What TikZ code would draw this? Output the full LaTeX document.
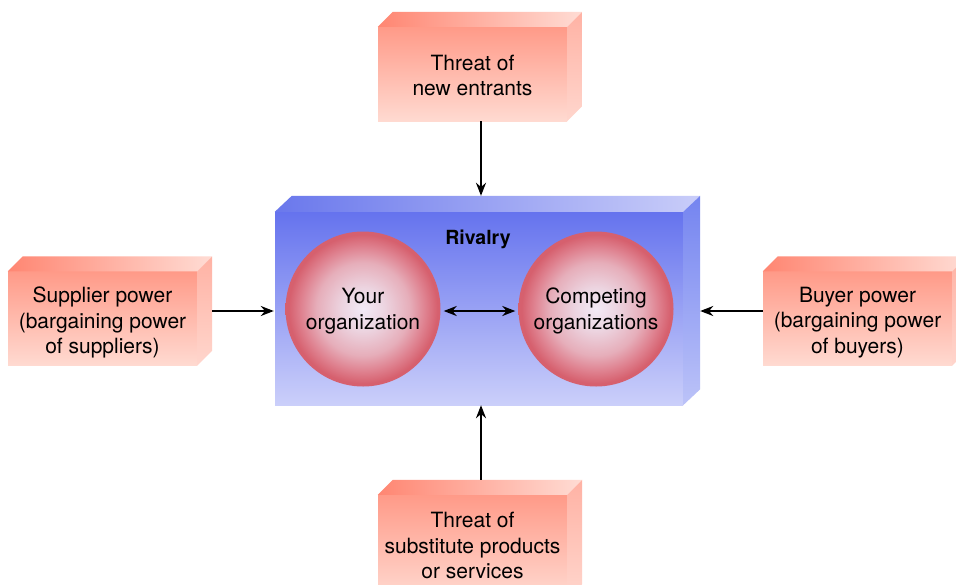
\documentclass[tikz,border=0pt]{standalone}
\usepackage{fontspec}
\setmainfont{TeX Gyre Heros}
\usetikzlibrary{arrows.meta,calc}

\definecolor{salTop}{HTML}{FF9A88}
\definecolor{salBot}{HTML}{FFDAD1}
\definecolor{salDeep}{HTML}{FF8672}
\definecolor{salPale}{HTML}{FFDCD4}
\definecolor{salSideTop}{HTML}{FFB2A4}
\definecolor{salSideBot}{HTML}{FFD6CD}
\definecolor{bluTop}{HTML}{6573EE}
\definecolor{bluBot}{HTML}{CBCFFA}
\definecolor{bluDeep}{HTML}{6A78EC}
\definecolor{bluPale}{HTML}{C9CDF9}
\definecolor{bluSideTop}{HTML}{7484F0}
\definecolor{bluSideBot}{HTML}{BCC3F8}
\definecolor{orgA}{HTML}{F2EAF6}
\definecolor{orgB}{HTML}{ECD4E0}
\definecolor{orgC}{HTML}{E6AEBA}
\definecolor{orgD}{HTML}{DF8290}
\definecolor{orgE}{HTML}{D6606E}

% pink ball: pale core, red rim
\pgfdeclareradialshading{orgball}{\pgfpoint{0bp}{0bp}}{%
  color(0bp)=(orgA); color(7bp)=(orgB); color(15bp)=(orgC);
  color(20bp)=(orgD); color(24bp)=(orgE); color(50bp)=(orgE)}

% side and top faces of an extruded front face
% #1 node, #2 depth x, #3 depth y, #4/#5 top face colours, #6/#7 side face colours
\newcommand\extrude[7]{%
  \shade[left color=#4, right color=#5]
    (#1.north west) -- ++(#2,-#3) -- ($(#1.north east)+(#2,-#3)$) -- (#1.north east) -- cycle;
  \shade[top color=#6, bottom color=#7]
    (#1.north east) -- ++(#2,-#3) -- ($(#1.south east)+(#2,-#3)$) -- (#1.south east) -- cycle;
}

\tikzset{
  forcebox/.style={rectangle, inner sep=0pt, minimum width=189pt, minimum height=94pt,
    top color=salTop, bottom color=salBot},
  caption/.style={inner sep=0pt, align=center, text=black,
    font=\fontsize{21}{25.5}\selectfont},
  marketbox/.style={rectangle, inner sep=0pt, minimum width=408pt, minimum height=193pt,
    top color=bluTop, bottom color=bluBot},
  orgcircle/.style={circle, inner sep=0pt, minimum size=155pt, shading=orgball},
  arr/.style={line width=2.4pt, -{Stealth[length=13pt,width=10pt]}},
  arrboth/.style={line width=2.4pt, {Stealth[length=13pt,width=10pt]}-{Stealth[length=13pt,width=10pt]}},
}

\begin{document}
\begin{tikzpicture}[x=1pt,y=-1pt]
\useasboundingbox (0,0) rectangle (956,584);
\clip (0,0) rectangle (956,584);
\fill[white] (0,0) rectangle (956,584);

% central rivalry block
\node[marketbox] (market) at (479,308.5) {};
\extrude{market}{17}{16}{bluDeep}{bluPale}{bluSideTop}{bluSideBot}
\node[font=\bfseries\fontsize{19.5}{23}\selectfont, text=black] (rivalry) at (478,239) {Rivalry};

\node[orgcircle] (yours) at (363,309) {};
\node[caption] (yourstext) at (363,311) {Your\\organization};
\node[orgcircle] (competing) at (596,309) {};
\node[caption] (competingtext) at (596,311) {Competing\\organizations};

% the four outside forces
\node[forcebox] (entrants) at (472.5,74) {};
\extrude{entrants}{15}{15}{salDeep}{salPale}{salSideTop}{salSideBot}
\node[caption] (entrantstext) at (472.5,75.5) {Threat of\\new entrants};

\node[forcebox] (suppliers) at (102.5,318.5) {};
\extrude{suppliers}{15}{15}{salDeep}{salPale}{salSideTop}{salSideBot}
\node[caption] (supplierstext) at (102.5,322.5) {Supplier power\\(bargaining power\\of suppliers)};

\node[forcebox] (buyers) at (857.5,318.5) {};
\extrude{buyers}{15}{15}{salDeep}{salPale}{salSideTop}{salSideBot}
\node[caption] (buyerstext) at (857.5,322.5) {Buyer power\\(bargaining power\\of buyers)};

\node[forcebox, minimum height=104pt] (substitutes) at (472.5,547) {};
\extrude{substitutes}{15}{15}{salDeep}{salPale}{salSideTop}{salSideBot}
\node[caption] (substitutestext) at (472.5,545.5) {Threat of\\substitute products\\or services};

% connectors
\coordinate (mN) at ($(market.north)+(2,-16)$);
\coordinate (mS) at ($(market.south)+(2,0)$);
\draw[arr] (entrants.south -| mN) -- (mN);
\draw[arr] ($(substitutes.north)+(8.5,-15)$) -- (mS);
\draw[arr] ($(suppliers.east)+(15,-7.5)$) -- ($(market.west)+(-1,2.5)$);
\draw[arr] ($(buyers.west)+(0,-7.5)$) -- ($(market.east)+(17,2.5)$);
\draw[arrboth, shorten <=3pt, shorten >=3pt] ($(yours.east)+(0,2)$) -- ($(competing.west)+(0,2)$);
\end{tikzpicture}
\end{document}
